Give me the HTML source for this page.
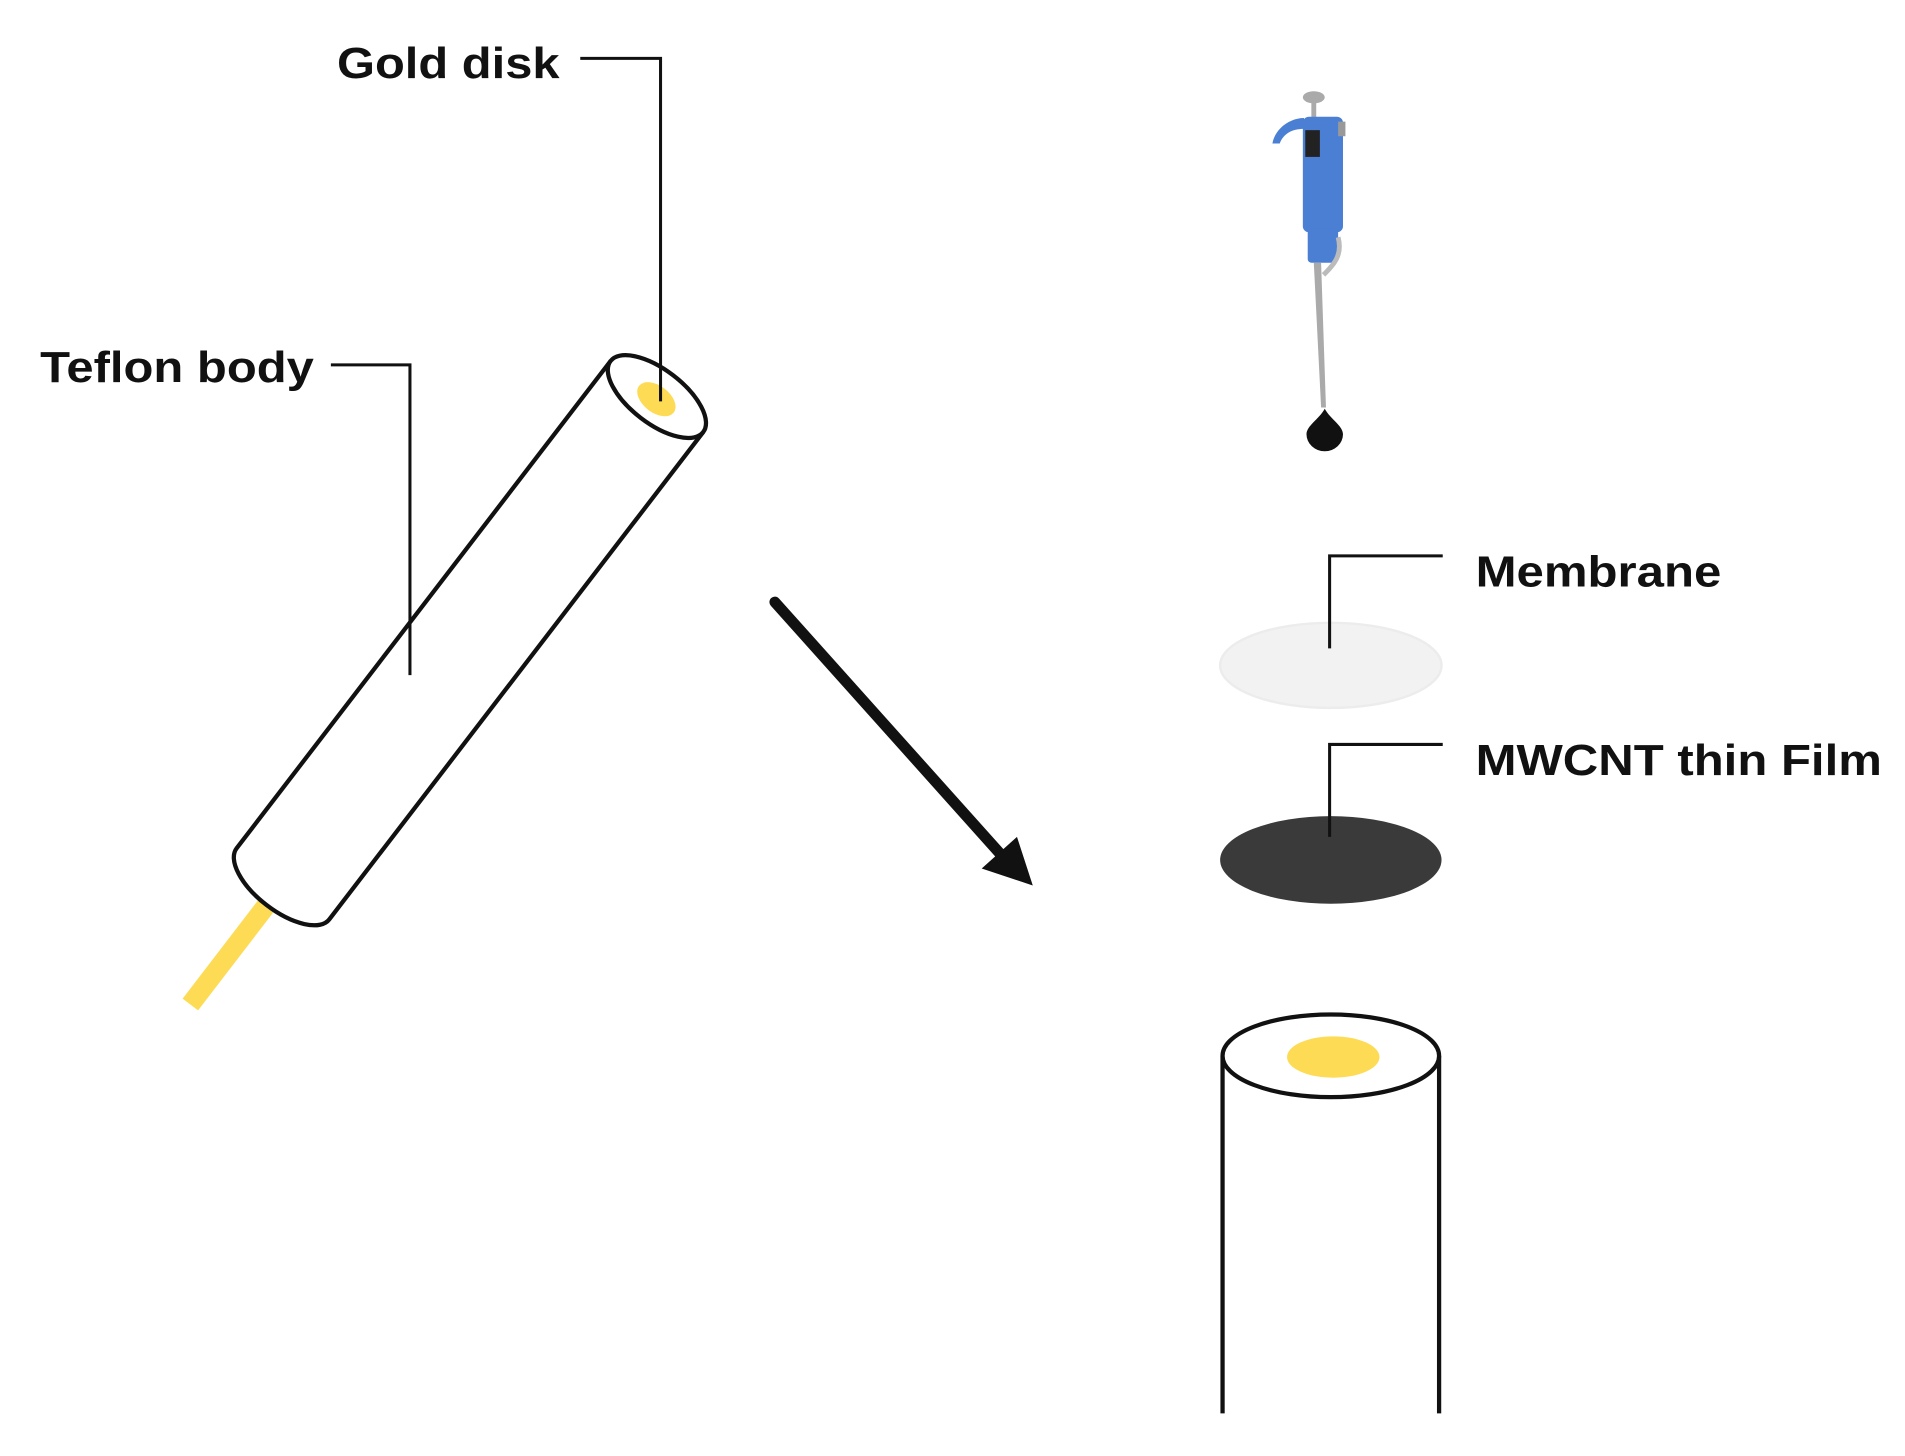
<!DOCTYPE html>
<html><head><meta charset="utf-8"><style>
html,body{margin:0;padding:0;background:#fff;}
svg{display:block;}
text{font-family:"Liberation Sans",sans-serif;font-weight:bold;fill:#111;}
</style></head><body>
<svg width="1905" height="1456" viewBox="0 0 1566 1197" preserveAspectRatio="none">
<!-- labels -->
<text x="277" y="64" font-size="36" textLength="183" lengthAdjust="spacingAndGlyphs">Gold disk</text>
<text x="33" y="314" font-size="36" textLength="225" lengthAdjust="spacingAndGlyphs">Teflon body</text>

<!-- tilted tube -->
<g transform="translate(540,326) rotate(37.5)">
  <line x1="0" y1="528" x2="0" y2="630" stroke="#fddb55" stroke-width="16"/>
  <path d="M-48,0 L-48,505 A48,22 0 0 0 48,505 L48,0" fill="#fff" stroke="#111" stroke-width="3.5"/>
  <ellipse cx="0" cy="0" rx="48" ry="22" fill="#fff" stroke="#111" stroke-width="3.5"/>
  <ellipse cx="1" cy="2" rx="18" ry="11" fill="#fddb55"/>
</g>
<polyline points="477,48 543,48 543,330" fill="none" stroke="#111" stroke-width="2.5"/>
<polyline points="272,300 337,300 337,555" fill="none" stroke="#111" stroke-width="2.5"/>

<!-- arrow -->
<line x1="637" y1="495" x2="825" y2="705" stroke="#111" stroke-width="9" stroke-linecap="round"/>
<polygon points="849,728 807,714 836,688" fill="#111"/>

<!-- pipette -->
<ellipse cx="1080" cy="80" rx="9" ry="5" fill="#aaa"/>
<rect x="1078" y="83" width="4" height="14" fill="#aaa"/>
<path d="M1072,97 C1060,97 1048,106 1046,118 L1052,118 C1055,110 1062,106 1072,106 Z" fill="#4a7fd4"/>
<rect x="1071" y="96" width="33" height="95" rx="5" fill="#4a7fd4"/>
<rect x="1073" y="107" width="12" height="22" fill="#222"/>
<rect x="1075" y="188" width="25" height="28" rx="3" fill="#4a7fd4"/>
<rect x="1100" y="100" width="6" height="12" fill="#999"/>
<path d="M1080,216 L1086,216 L1090,335 L1086,335 Z" fill="#aaa"/>
<path d="M1100,195 C1104,210 1096,218 1088,226" fill="none" stroke="#bbb" stroke-width="4"/>
<path d="M1089,336 C1094,345 1104,350 1104,357 A15,14 0 0 1 1074,357 C1074,350 1084,345 1089,336 Z" fill="#111"/>

<!-- membrane -->
<ellipse cx="1094" cy="547" rx="91" ry="35" fill="#f2f2f2" stroke="#ececec" stroke-width="2"/>
<polyline points="1186,457 1093,457 1093,533" fill="none" stroke="#111" stroke-width="2.5"/>
<text x="1213" y="482" font-size="36" textLength="202" lengthAdjust="spacingAndGlyphs">Membrane</text>

<!-- MWCNT -->
<ellipse cx="1094" cy="707" rx="91" ry="36" fill="#3a3a3a"/>
<polyline points="1186,612 1093,612 1093,688" fill="none" stroke="#111" stroke-width="2.5"/>
<text x="1213" y="637" font-size="36" textLength="334" lengthAdjust="spacingAndGlyphs">MWCNT thin Film</text>

<!-- bottom tube -->
<line x1="1005" y1="868" x2="1005" y2="1162" stroke="#111" stroke-width="3.5"/>
<line x1="1183" y1="868" x2="1183" y2="1162" stroke="#111" stroke-width="3.5"/>
<ellipse cx="1094" cy="868" rx="89" ry="34" fill="#fff" stroke="#111" stroke-width="3.5"/>
<ellipse cx="1096" cy="869" rx="38" ry="17" fill="#fddb55"/>
</svg>
</body></html>
